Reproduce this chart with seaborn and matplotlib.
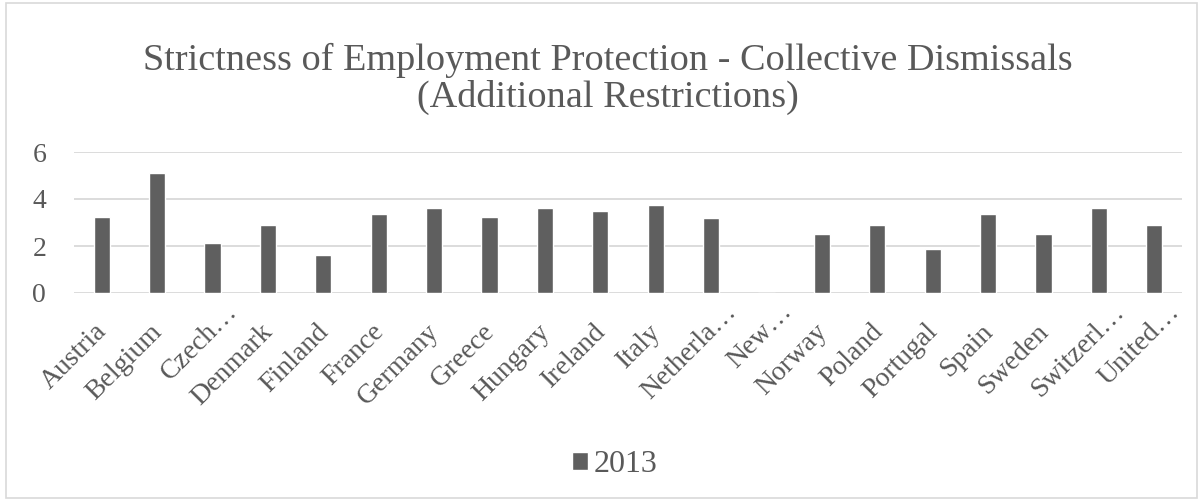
import matplotlib
matplotlib.use("Agg")
import matplotlib.pyplot as plt
import matplotlib.transforms as mtransforms
import seaborn as sns
import pandas as pd
from matplotlib.patches import Rectangle

countries = ["Austria", "Belgium", "Czech…", "Denmark", "Finland", "France", "Germany",
             "Greece", "Hungary", "Ireland", "Italy", "Netherla…", "New…", "Norway",
             "Poland", "Portugal", "Spain", "Sweden", "Switzerl…", "United…"]
values_2013 = [3.25, 5.125, 2.125, 2.875, 1.625, 3.375, 3.625, 3.25, 3.625, 3.5,
               3.75, 3.1875, 0, 2.5, 2.875, 1.875, 3.375, 2.5, 3.625, 2.875]
series_name = "2013"
yticks = [0, 2, 4, 6]
title = "Strictness of Employment Protection - Collective Dismissals\n(Additional Restrictions)"

sns.set_theme(style="white")
plt.rcParams['font.family'] = ['Liberation Serif', 'DejaVu Serif']
text_color = "#595959"
bar_color = "#5f5f5f"
grid_color = "#d9d9d9"

df = pd.DataFrame({"country": countries, "value": values_2013, "year": series_name})

W, H = 1203, 500
fig = plt.figure(figsize=(W / 100, H / 100), dpi=100)
ax = fig.add_axes([74 / W, 1 - 293 / H, (1182 - 74) / W, (293 - 152) / H])
sns.barplot(data=df, x="country", y="value", hue="year", palette=[bar_color],
            width=0.29, ax=ax, legend=False, saturation=1)

ax.set_ylim(0, 6)
ax.set_yticks(yticks)
ax.set_xlim(-0.5, len(countries) - 0.5)
ax.yaxis.grid(True, color=grid_color, linewidth=1.3)
ax.set_axisbelow(True)
for s in ax.spines.values():
    s.set_visible(False)
ax.set_xlabel("")
ax.set_ylabel("")
ax.tick_params(axis="both", length=0, colors=text_color, labelsize=20)
ax.tick_params(axis="y", pad=20)
ax.tick_params(axis="x", pad=28.5)
for lab in ax.get_xticklabels():
    lab.set_rotation(45)
    lab.set_ha("right")
    lab.set_va("baseline")
    lab.set_rotation_mode("anchor")
    lab.set_color(text_color)
    dx, dy = 6, 0
    if lab.get_text().endswith("…"):
        dx, dy = 26, 20
    lab.set_transform(lab.get_transform() +
                      mtransforms.ScaledTranslation(dx / 100, dy / 100, fig.dpi_scale_trans))

fig.text(0.5055, 0.842, title, ha="center", va="center", fontsize=27.5,
         color=text_color, linespacing=1.07)

handle = Rectangle((0, 0), 1, 1, facecolor=bar_color)
fig.legend([handle], [series_name], loc="center", bbox_to_anchor=(0.511, 0.07),
           frameon=False, fontsize=23, labelcolor=text_color,
           handlelength=0.5, handleheight=0.5, handletextpad=0.2)

fig.patches.append(Rectangle((0.005, 0.005), 0.99, 0.99, transform=fig.transFigure,
                             fill=False, edgecolor=grid_color, linewidth=1.2))

fig.savefig("out.png", dpi=100)
